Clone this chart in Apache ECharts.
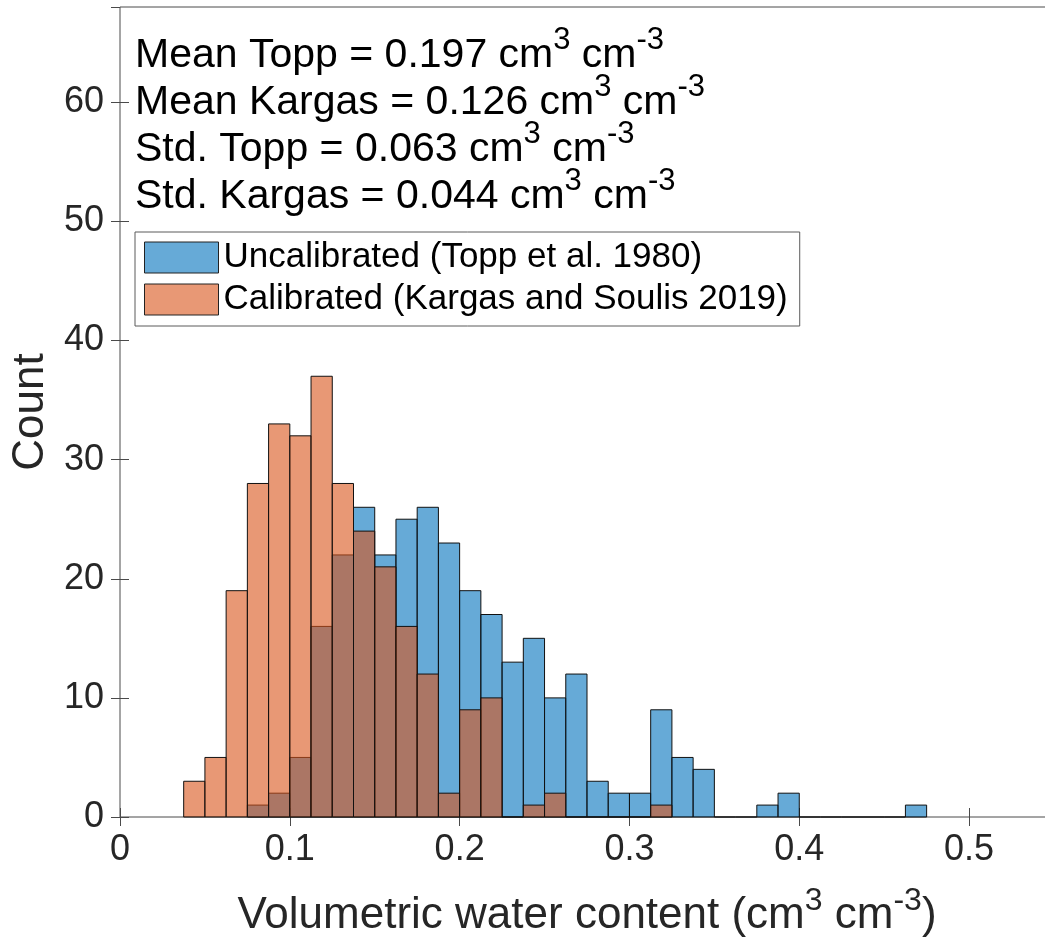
<!DOCTYPE html>
<html>
<head>
<meta charset="utf-8">
<script src="https://cdn.jsdelivr.net/npm/echarts@6/dist/echarts.min.js"></script>
<style>
html,body{margin:0;padding:0;overflow:hidden;background:#fff}
#chart{width:1062px;height:940px}
</style>
</head>
<body>
<div id="chart"></div>
<script>
// Lower bin edges (cm3 cm-3); every bin is 0.0125 wide
const binLowerEdges = [0.0375,0.05,0.0625,0.075,0.0875,0.1,0.1125,0.125,0.1375,0.15,0.1625,0.175,0.1875,0.2,0.2125,0.225,0.2375,0.25,0.2625,0.275,0.2875,0.3,0.3125,0.325,0.3375,0.35,0.3625,0.375,0.3875,0.4,0.4125,0.425,0.4375,0.45,0.4625];
const binWidth = 0.0125;
// Uncalibrated (Topp et al. 1980)
const toppCounts   = [0,0,0,1,2,5,16,22,26,22,25,26,23,19,17,13,15,10,12,3,2,2,9,5,4,0,0,1,2,0,0,0,0,0,1];
// Calibrated (Kargas and Soulis 2019)
const kargasCounts = [3,5,19,28,33,32,37,28,24,21,16,12,2,9,10,0,1,2,0,0,0,0,1,0,0,0,0,0,0,0,0,0,0,0,0];
const seriesNames = ['Uncalibrated (Topp et al. 1980)', 'Calibrated (Kargas and Soulis 2019)'];
const statLines = [
  ['Mean Topp = 0.197'],
  ['Mean Kargas = 0.126'],
  ['Std. Topp = 0.063'],
  ['Std. Kargas = 0.044']
];
const xTickInterval = 0.1;
const yTickInterval = 10;

const FONT = '"Liberation Sans", Arial, Helvetica, sans-serif';
const blueFill = 'rgba(0,114,189,0.6)';
const orangeFill = 'rgba(217,83,25,0.6)';

function buildBins(counts) {
  let first = counts.findIndex(c => c > 0);
  let last = counts.length - 1;
  while (last > 0 && counts[last] === 0) last--;
  const out = [];
  for (let i = first; i <= last; i++) {
    out.push([binLowerEdges[i], binLowerEdges[i] + binWidth, counts[i]]);
  }
  return out;
}

function makeRender(fill) {
  return function (params, api) {
    const p0 = api.coord([api.value(0), api.value(2)]);
    const p1 = api.coord([api.value(1), 0]);
    return {
      type: 'rect',
      shape: { x: p0[0], y: p0[1], width: p1[0] - p0[0], height: p1[1] - p0[1] },
      style: { fill: fill, stroke: '#111', lineWidth: 1 }
    };
  };
}

const statText = statLines.map(l => '{m|' + l[0] + ' cm}{s|3}{m| cm}{s|-3}').join('\n');

const chart = echarts.init(document.getElementById('chart'), null, { renderer: 'canvas' });
const axisGray = '#4a4a4a';
const tickLabelColor = '#262626';

chart.setOption({
  animation: false,
  backgroundColor: '#fff',
  textStyle: { fontFamily: FONT },
  grid: {
    left: 120, right: 8, top: 7, bottom: 123,
    outerBoundsMode: 'none',
    containLabel: false,
    show: true, borderColor: axisGray, borderWidth: 1, backgroundColor: 'transparent'
  },
  legend: {
    left: 135, top: 232,
    orient: 'vertical',
    itemWidth: 74, itemHeight: 31, itemGap: 7,
    padding: [8, 12, 9, 9],
    borderColor: '#5a5a5a', borderWidth: 1,
    backgroundColor: '#fff',
    selectedMode: false,
    textStyle: { fontSize: 35, color: '#000', fontFamily: FONT },
    data: [
      { name: seriesNames[0], icon: 'rect', itemStyle: { color: blueFill, borderColor: '#222', borderWidth: 1 } },
      { name: seriesNames[1], icon: 'rect', itemStyle: { color: orangeFill, borderColor: '#222', borderWidth: 1 } }
    ]
  },
  xAxis: [{
    type: 'value', min: 0, max: 0.55, interval: xTickInterval,
    position: 'bottom',
    splitLine: { show: false },
    axisLine: { show: false },
    axisTick: { show: true, inside: true, length: 9, lineStyle: { color: axisGray } },
    axisLabel: { show: true, showMaxLabel: false, margin: 15, fontSize: 36, color: tickLabelColor, fontFamily: FONT },
    name: '{m|Volumetric water content (cm}{s|3}{m| cm}{s|-3}{m|)}',
    nameLocation: 'middle', nameGap: 72,
    nameTextStyle: {
      color: tickLabelColor, fontFamily: FONT,
      rich: {
        m: { fontSize: 44, lineHeight: 54, color: tickLabelColor, fontFamily: FONT },
        s: { fontSize: 32, lineHeight: 10, verticalAlign: 'bottom', padding: [0, 0, 26, 0], color: tickLabelColor, fontFamily: FONT }
      }
    }
  }, {
    type: 'value', min: 0, max: 0.55, interval: xTickInterval,
    position: 'top',
    splitLine: { show: false },
    axisLine: { show: false },
    axisTick: { show: true, inside: true, length: 9, lineStyle: { color: axisGray } },
    axisLabel: { show: false }
  }],
  yAxis: [{
    type: 'value', min: 0, max: 68, interval: yTickInterval,
    position: 'left',
    splitLine: { show: false },
    axisLine: { show: false },
    axisTick: { show: true, inside: true, length: 9, lineStyle: { color: axisGray } },
    axisLabel: { show: true, showMaxLabel: false, margin: 16, fontSize: 36, color: tickLabelColor, fontFamily: FONT },
    name: 'Count',
    nameLocation: 'middle', nameGap: 67,
    nameTextStyle: { fontSize: 44, color: tickLabelColor, fontFamily: FONT }
  }, {
    type: 'value', min: 0, max: 68, interval: yTickInterval,
    position: 'right',
    splitLine: { show: false },
    axisLine: { show: false },
    axisTick: { show: true, inside: true, length: 9, lineStyle: { color: axisGray } },
    axisLabel: { show: false }
  }],
  graphic: [{
    type: 'text',
    left: 135, top: 25,
    z: 100,
    style: {
      text: statText,
      fill: '#000',
      font: '41px ' + FONT,
      rich: {
        m: { fontSize: 41, lineHeight: 47, fontFamily: FONT, fill: '#000', color: '#000' },
        s: { fontSize: 31, lineHeight: 10, verticalAlign: 'bottom', padding: [0, 0, 23, 0], fontFamily: FONT, fill: '#000', color: '#000' }
      }
    }
  }],
  series: [{
    name: seriesNames[0],
    type: 'custom',
    xAxisIndex: 0, yAxisIndex: 0,
    itemStyle: { color: blueFill },
    renderItem: makeRender(blueFill),
    encode: { x: [0, 1], y: 2 },
    data: buildBins(toppCounts),
    z: 2
  }, {
    name: seriesNames[1],
    type: 'custom',
    xAxisIndex: 0, yAxisIndex: 0,
    itemStyle: { color: orangeFill },
    renderItem: makeRender(orangeFill),
    encode: { x: [0, 1], y: 2 },
    data: buildBins(kargasCounts),
    z: 3
  }]
});
</script>
</body>
</html>
